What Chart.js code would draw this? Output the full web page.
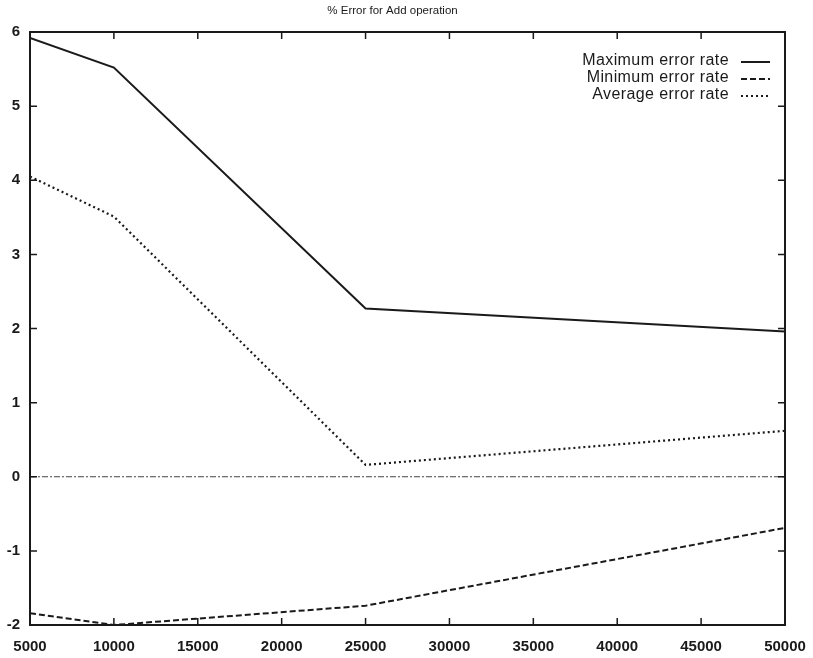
<!DOCTYPE html>
<html>
<head>
<meta charset="utf-8">
<script src="https://cdn.jsdelivr.net/npm/chart.js@4/dist/chart.umd.min.js"></script>
<style>
  html, body { margin: 0; padding: 0; background: #fff; }
  #wrap { width: 813px; height: 658px; }
</style>
</head>
<body>
<div id="wrap"><canvas id="errChart" width="813" height="658"></canvas></div>
<script>
// Problem sizes and error rates (%)
const sizes = [5000, 10000, 25000, 50000];
const maxErr = [5.92, 5.52, 2.27, 1.96];
const minErr = [-1.84, -2.0, -1.74, -0.69];
const avgErr = [4.05, 3.51, 0.16, 0.62];
const zeroLine = [0, 0];
const zeroX = [5000, 50000];

const xTicks = [5000, 10000, 15000, 20000, 25000, 30000, 35000, 40000, 45000, 50000];
const yTicks = [-2, -1, 0, 1, 2, 3, 4, 5, 6];

const ink = '#1a1a1a';
const family = 'Liberation Sans, Arial, sans-serif';
const labelFont = { family: family, size: 15, weight: 'bold' };

function pts(xs, ys) {
  return xs.map((x, i) => ({ x: x, y: ys[i] }));
}

// frame, inward ticks on all four sides, and the key in the top right corner
const framePlugin = {
  id: 'frame',
  afterDatasetsDraw(chart) {
    const { ctx, chartArea: a, scales } = chart;
    const len = 7;
    ctx.save();
    ctx.strokeStyle = ink;
    ctx.lineWidth = 2;
    ctx.setLineDash([]);
    ctx.strokeRect(a.left, a.top, a.right - a.left, a.bottom - a.top);
    ctx.lineWidth = 1.5;
    ctx.beginPath();
    xTicks.forEach(v => {
      const px = scales.x.getPixelForValue(v);
      ctx.moveTo(px, a.bottom); ctx.lineTo(px, a.bottom - len);
      ctx.moveTo(px, a.top); ctx.lineTo(px, a.top + len);
    });
    yTicks.forEach(v => {
      const py = scales.y.getPixelForValue(v);
      ctx.moveTo(a.left, py); ctx.lineTo(a.left + len, py);
      ctx.moveTo(a.right, py); ctx.lineTo(a.right - len, py);
    });
    ctx.stroke();

    // key
    ctx.font = '16px ' + family;
    ctx.letterSpacing = '0.4px';
    ctx.textAlign = 'right';
    ctx.textBaseline = 'middle';
    ctx.fillStyle = ink;
    const textRight = a.right - 56;
    const lineL = a.right - 44, lineR = a.right - 15;
    let y = a.top + 29;
    chart.data.datasets.forEach(ds => {
      if (!ds.label) return;
      ctx.fillText(ds.label, textRight, y);
      ctx.strokeStyle = ds.borderColor;
      ctx.lineWidth = ds.borderWidth;
      ctx.setLineDash(ds.borderDash || []);
      ctx.beginPath();
      ctx.moveTo(lineL, y + 1);
      ctx.lineTo(lineR, y + 1);
      ctx.stroke();
      y += 17;
    });
    ctx.restore();
  }
};

new Chart(document.getElementById('errChart'), {
  type: 'line',
  data: {
    datasets: [
      { label: 'Maximum error rate', data: pts(sizes, maxErr), borderColor: ink, borderWidth: 2 },
      { label: 'Minimum error rate', data: pts(sizes, minErr), borderColor: ink, borderWidth: 2, borderDash: [6, 3] },
      { label: 'Average error rate', data: pts(sizes, avgErr), borderColor: ink, borderWidth: 2.2, borderDash: [2, 3] },
      { label: '', data: pts(zeroX, zeroLine), borderColor: '#444', borderWidth: 1, borderDash: [6, 2, 2, 2] }
    ]
  },
  options: {
    responsive: false,
    animation: false,
    layout: { padding: { left: 0, right: 28, top: 0, bottom: 0 } },
    elements: { point: { radius: 0 }, line: { tension: 0 } },
    plugins: {
      legend: { display: false },
      tooltip: { enabled: false },
      title: {
        display: true,
        text: '% Error for Add operation',
        color: ink,
        font: { family: family, size: 11.5, weight: 'normal' },
        padding: { top: 3.5, bottom: 14.7 }
      }
    },
    scales: {
      x: {
        type: 'linear',
        min: 5000,
        max: 50000,
        afterBuildTicks(scale) { scale.ticks = xTicks.map(v => ({ value: v })); },
        afterFit(scale) { scale.height = 33; },
        grid: { display: false },
        border: { display: false },
        ticks: {
          color: ink, font: labelFont, padding: 5, maxRotation: 0, autoSkip: false,
          callback: v => String(v)
        }
      },
      y: {
        type: 'linear',
        min: -2,
        max: 6,
        afterBuildTicks(scale) { scale.ticks = yTicks.map(v => ({ value: v })); },
        afterFit(scale) { scale.width = 30; },
        grid: { display: false },
        border: { display: false },
        ticks: { color: ink, font: labelFont, padding: 2 }
      }
    }
  },
  plugins: [framePlugin]
});
</script>
</body>
</html>
